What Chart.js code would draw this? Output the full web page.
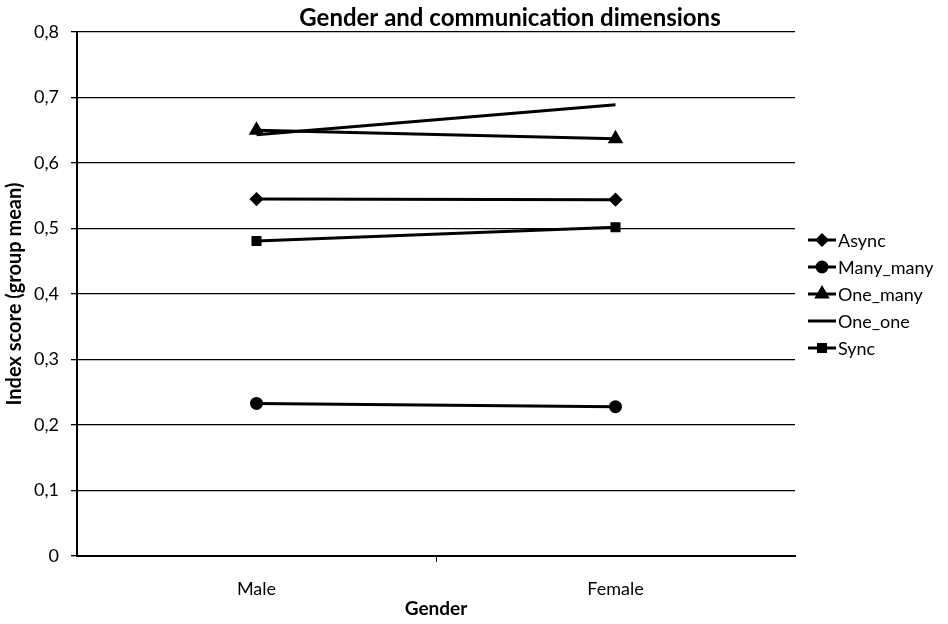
<!DOCTYPE html>
<html>
<head>
<meta charset="utf-8">
<script src="https://cdn.jsdelivr.net/npm/chart.js@4"></script>
<style>
  body { margin: 0; background: #fff; }
  canvas { display: block; }
</style>
</head>
<body>
<canvas id="chart" width="948" height="624"></canvas>
<script>
const categories = ['Male', 'Female'];
const seriesNames = ['Async', 'Many_many', 'One_many', 'One_one', 'Sync'];
const asyncValues = [0.545, 0.544];
const manyManyValues = [0.233, 0.228];
const oneManyValues = [0.650, 0.637];
const oneOneValues = [0.643, 0.689];
const syncValues = [0.481, 0.502];
const pointStyles = ['rectRot', 'circle', 'triangle', false, 'rect'];
const pointSizes = [5, 5, 6, 0, 5];

const FONT = 'Lato, "Open Sans", sans-serif';
const allValues = [asyncValues, manyManyValues, oneManyValues, oneOneValues, syncValues];

const datasets = seriesNames.map((name, i) => ({
  label: name,
  data: allValues[i],
  borderColor: '#000',
  backgroundColor: '#000',
  borderWidth: 3,
  pointStyle: pointStyles[i],
  pointRadius: pointSizes[i],
  pointHoverRadius: pointSizes[i],
  tension: 0
}));

// title and right-hand legend drawn by hand (Excel style)
const extras = {
  id: 'extras',
  afterDraw(chart) {
    const c = chart.ctx;
    c.save();
    c.fillStyle = '#000';
    c.font = 'bold 24px ' + FONT;
    c.textAlign = 'center';
    c.textBaseline = 'middle';
    c.fillText('Gender and communication dimensions', 510, 18);

    c.font = '18px ' + FONT;
    c.textAlign = 'left';
    seriesNames.forEach((name, i) => {
      const y = 240 + i * 27;
      c.strokeStyle = '#000';
      c.lineWidth = 3;
      c.beginPath();
      c.moveTo(808, y);
      c.lineTo(836, y);
      c.stroke();
      if (pointStyles[i]) {
        Chart.helpers.drawPoint(c, { pointStyle: pointStyles[i], radius: pointSizes[i], borderWidth: 1 }, 822, y);
        c.fill();
      }
      c.fillText(name, 838, y + 1);
    });
    c.restore();
  }
};

new Chart(document.getElementById('chart'), {
  type: 'line',
  data: { labels: categories, datasets: datasets },
  plugins: [extras],
  options: {
    responsive: false,
    animation: false,
    layout: { padding: { top: 32, right: 153, left: 0, bottom: 0 } },
    plugins: {
      legend: { display: false },
      tooltip: { enabled: false }
    },
    scales: {
      x: {
        offset: true,
        afterFit: s => { s.height = 68; },
        border: { color: '#000', width: 2 },
        grid: {
          offset: true,
          drawOnChartArea: false,
          tickLength: 6,
          color: ctx => ctx.index === 1 ? '#000' : 'rgba(0,0,0,0)'
        },
        ticks: { color: '#000', font: { family: FONT, size: 18 }, padding: 16 },
        title: {
          display: true,
          text: 'Gender',
          color: '#000',
          font: { family: FONT, size: 19, weight: 'bold' },
          padding: { top: 0, bottom: 4 }
        }
      },
      y: {
        min: 0,
        max: 0.8,
        afterFit: s => { s.width = 77; },
        border: { color: '#000', width: 2 },
        grid: { color: '#000', lineWidth: 1.3, tickLength: 6 },
        ticks: {
          stepSize: 0.1,
          color: '#000',
          font: { family: FONT, size: 18 },
          padding: 12,
          callback: v => v === 0 ? '0' : v.toFixed(1).replace('.', ',')
        },
        title: {
          display: true,
          text: 'Index score (group mean)',
          color: '#000',
          font: { family: FONT, size: 20, weight: 'bold' },
          padding: { top: 3, bottom: 0 }
        }
      }
    }
  }
});
</script>
</body>
</html>
